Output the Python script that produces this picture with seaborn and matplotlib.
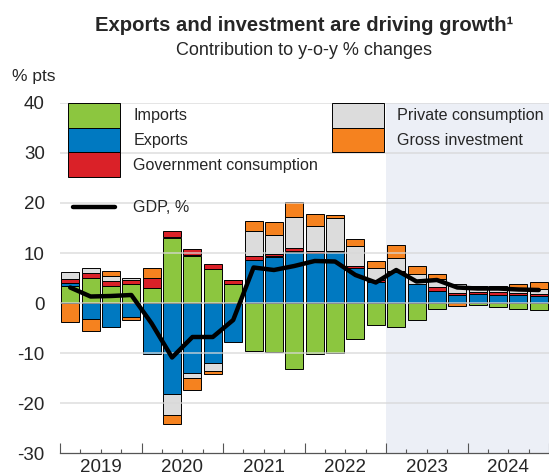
import numpy as np
import pandas as pd
import matplotlib.pyplot as plt
import seaborn as sns
from matplotlib.patches import Patch
from matplotlib.lines import Line2D

# data, quarterly 2019Q1 - 2024Q4 (% pts contributions)
quarters = [f"{y}Q{q}" for y in range(2019, 2025) for q in range(1, 5)]
years = ["2019", "2020", "2021", "2022", "2023", "2024"]
imports = [3.4, 5.1, 3.5, 3.8, 3.1, 13.1, 9.5, 6.8, 3.9, -9.6, -9.7, -13.1,
           -10.1, -9.9, -7.1, -4.3, -4.8, -3.3, -1.1, 0.0, -0.4, -0.7, -1.1, -1.4]
exports = [0.6, -3.1, -4.8, -2.8, -10.2, -18.2, -14.0, -12.0, -7.7, 8.7, 9.3, 10.3,
           10.0, 10.3, 7.1, 4.2, 6.2, 3.8, 2.5, 1.7, 1.8, 1.7, 1.7, 1.5]
gov_cons = [0.9, 1.0, 1.0, 0.9, 2.0, 1.3, 1.2, 1.0, 0.7, 0.7, 0.5, 0.6,
            0.3, 0.1, 0.3, 0.5, 0.3, 0.1, 0.8, 0.4, 0.5, 0.5, 0.4, 0.4]
priv_cons = [1.3, 0.9, 0.9, 0.4, 0.0, -4.2, -0.9, -1.6, 0.0, 4.9, 3.7, 6.2,
             5.1, 6.5, 4.0, 2.3, 2.5, 1.9, 1.6, 1.7, 1.2, 0.8, 1.0, 1.0]
gross_inv = [-3.7, -2.5, 1.0, -0.6, 2.0, -1.7, -2.4, -0.5, 0.0, 2.0, 2.6, 3.0,
             2.4, 0.7, 1.4, 1.5, 2.6, 1.7, 0.9, -0.6, 0.0, 0.5, 0.8, 1.3]
gdp = [3.1, 1.3, 1.4, 1.6, -4.1, -10.9, -6.8, -6.8, -3.4, 7.1, 6.6, 7.4,
       8.4, 8.3, 5.6, 4.1, 6.6, 4.3, 4.6, 3.1, 2.9, 2.9, 2.7, 2.6]
forecast_start = "2023Q1"

series = [
    ("Imports", imports, "#8CC63F"),
    ("Exports", exports, "#0079C1"),
    ("Government consumption", gov_cons, "#DA2128"),
    ("Private consumption", priv_cons, "#DCDCDC"),
    ("Gross investment", gross_inv, "#F5821F"),
]

sns.set_theme(style="white")
plt.rcParams["font.family"] = ["Liberation Sans", "DejaVu Sans"]

fig = plt.figure(figsize=(5.49, 4.76), dpi=100)
ax = fig.add_axes([60 / 549, 23 / 476, 489 / 549, 350 / 476])

# forecast shading
fs = quarters.index(forecast_start) - 0.5
ax.axvspan(fs, len(quarters) - 0.5, color="#ECEFF6", zorder=0, lw=0)

# stacked bars, positives and negatives stacked separately
pos_base = np.zeros(len(quarters))
neg_base = np.zeros(len(quarters))
for name, vals, col in series:
    vals = np.array(vals)
    bottom = np.where(vals >= 0, pos_base, neg_base)
    sns.barplot(x=quarters, y=vals, bottom=bottom, color=col, saturation=1,
                width=0.88, edgecolor="black", linewidth=0.7, errorbar=None,
                ax=ax, zorder=2)
    pos_base = pos_base + np.clip(vals, 0, None)
    neg_base = neg_base + np.clip(vals, None, 0)

# GDP line
sns.lineplot(x=np.arange(len(quarters)), y=gdp, color="black", lw=3.2,
             ax=ax, zorder=4, legend=False)

# axes
ax.set_xlim(-0.5, len(quarters) - 0.5)
ax.set_ylim(-30, 40)
ax.set_yticks(range(-30, 41, 10))
ax.set_yticklabels([str(v) for v in range(-30, 41, 10)], fontsize=13.5)
ax.tick_params(axis="y", length=0, pad=11)
for v in range(-20, 41, 10):
    ax.axhline(v, color="#D8D8D8", lw=1.1, zorder=3, alpha=0.85)

ax.set_xticks(np.arange(-0.5, len(quarters), 4))
ax.set_xticks(np.arange(-0.5, len(quarters), 1), minor=True)
ax.set_xticklabels([])
ax.tick_params(axis="x", which="major", direction="in", length=7, width=0.8,
               color="#555555", bottom=True)
ax.tick_params(axis="x", which="minor", direction="in", length=3, width=0.8,
               color="#555555", bottom=True)
for i, yr in enumerate(years):
    ax.text(i * 4 + 1.5, -19 / 350, yr, transform=ax.get_xaxis_transform(),
            ha="center", va="baseline", fontsize=13.5)
ax.set_xlabel("")
ax.set_ylabel("")
sns.despine(ax=ax, left=True, top=True, right=True)
ax.spines["bottom"].set_color("#555555")
ax.spines["bottom"].set_linewidth(0.9)

# legends
patches = {name: Patch(facecolor=col, edgecolor="black", lw=0.7) for name, _, col in series}
leg_kw = dict(loc="upper left", frameon=False, fontsize=11.6, handlelength=3.2,
              handleheight=1.98, labelspacing=0.0, handletextpad=0.86,
              borderpad=0, borderaxespad=0)
leg1 = ax.legend([patches[n] for n in ["Imports", "Exports", "Government consumption"]],
                 ["Imports", "Exports", "Government consumption"],
                 bbox_to_anchor=(8 / 489, 1.0), **leg_kw)
ax.add_artist(leg1)
leg2 = ax.legend([patches[n] for n in ["Private consumption", "Gross investment"]],
                 ["Private consumption", "Gross investment"],
                 bbox_to_anchor=(272 / 489, 1.0), **leg_kw)
ax.add_artist(leg2)
ax.legend([Line2D([], [], color="black", lw=3.2)], ["GDP, %"],
          loc="center left", bbox_to_anchor=(13 / 489, 245 / 350), frameon=False,
          fontsize=11.6, handlelength=2.6, handletextpad=1.1, borderpad=0,
          borderaxespad=0)

# titles
fig.text(304.5 / 549, 1 - 31 / 476, "Exports and investment are driving growth\u00b9",
         ha="center", va="baseline", fontsize=14.6, fontweight="bold")
fig.text(304.5 / 549, 1 - 55 / 476, "Contribution to y-o-y % changes",
         ha="center", va="baseline", fontsize=13)
fig.text(12 / 549, 1 - 81 / 476, "% pts", ha="left", va="baseline", fontsize=12.5)

fig.savefig("out.png", dpi=100)
